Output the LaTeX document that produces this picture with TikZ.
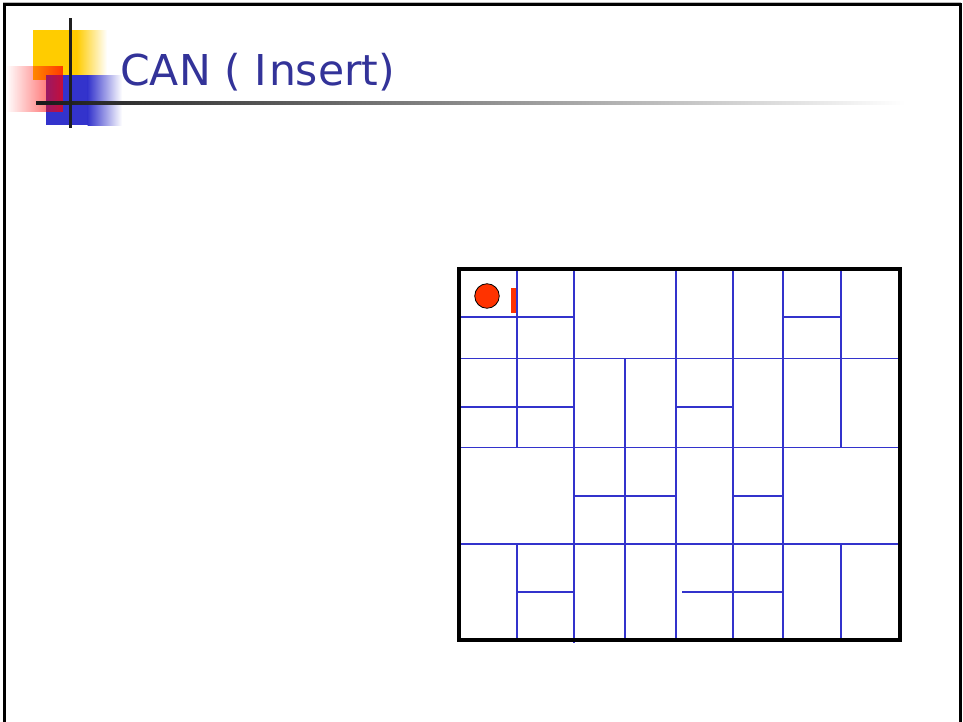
\documentclass[tikz,border=0pt]{standalone}
\usepackage{fontspec}
\newfontfamily\titlefont{DejaVu Sans}
\usetikzlibrary{fadings}
\definecolor{gridblue}{RGB}{51,51,204}
\definecolor{titleblue}{RGB}{51,51,153}
\definecolor{logoyellow}{RGB}{255,204,0}
\definecolor{logoblue}{RGB}{51,51,204}
\definecolor{dotred}{RGB}{255,51,0}
\begin{document}
\begin{tikzpicture}[x=0.75pt,y=-0.75pt,
  gridline/.style={gridblue,line width=1.1pt},
  border/.style={black,line width=2.6pt},
  frame/.style={black,line width=2pt}]
\useasboundingbox (0,0) rectangle (963,721);
\fill[white] (0,0) rectangle (963,721);
% slide frame
\draw[gray!55,line width=1pt] (3,2.3) -- (961,2.3);
\draw[frame] (4.5,740) -- (4.5,4.7) -- (960.5,4.7) -- (960.5,740);
% logo
\fill[logoyellow] (33,30) rectangle (77,80);
\shade[left color=logoyellow,right color=white] (76.5,30) rectangle (107,80);
\fill[logoblue] (46,75) rectangle (88,125);
\shade[left color=logoblue,right color=white] (87.5,75) rectangle (122,125);
\fill[red,path fading=west,fill opacity=0.72] (6,66) rectangle (63,112);
\shade[left color=black!90,right color=white] (36,101) rectangle (905,104.5);
\fill[black!88] (69,18) rectangle (72,128);
% title
\node[anchor=base west,text=titleblue,inner sep=0,
  font=\titlefont\fontsize{31.9}{38}\selectfont] (title) at (120,85) {CAN ( I\kern1.5pt nsert)};
% zone grid
\draw[gridline] (459,358.5) -- (900,358.5);
\draw[gridline] (459,447.5) -- (900,447.5);
\draw[gridline] (459,544) -- (900,544);
\draw[gridline] (459,317) -- (574,317);
\draw[gridline] (783,317) -- (841,317);
\draw[gridline] (459,407) -- (574,407);
\draw[gridline] (676,407) -- (733,407);
\draw[gridline] (574,496) -- (676,496);
\draw[gridline] (733,496) -- (783,496);
\draw[gridline] (517,592) -- (574,592);
\draw[gridline] (682,592) -- (783,592);
\draw[gridline] (517,269) -- (517,447.5);
\draw[gridline] (517,544) -- (517,640);
\draw[gridline] (574,269) -- (574,643);
\draw[gridline] (625,358.5) -- (625,640);
\draw[gridline] (676,269) -- (676,640);
\draw[gridline] (733,269) -- (733,640);
\draw[gridline] (783,269) -- (783,640);
\draw[gridline] (841,269) -- (841,447.5);
\draw[gridline] (841,544) -- (841,640);
\draw[border] (459,269) rectangle (900,640);
% inserted point and marker
\node[circle,draw=black,fill=dotred,line width=0.6pt,minimum size=18.4pt,inner sep=0] (newnode) at (487,296) {};
\fill[dotred] (511,288) rectangle (516.2,313);
\end{tikzpicture}
\end{document}
